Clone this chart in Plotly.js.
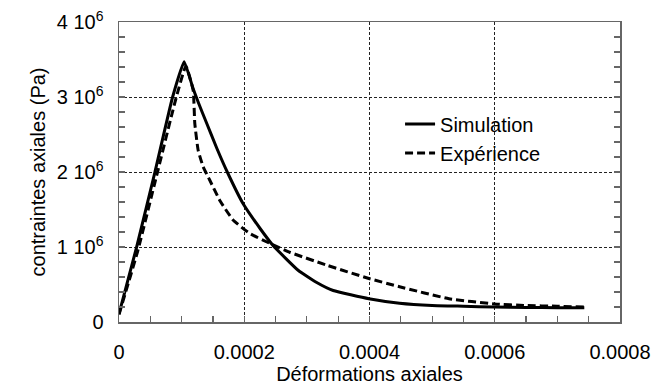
<!DOCTYPE html>
<html>
<head>
<meta charset="utf-8">
<script src="https://cdn.plot.ly/plotly-3.0.1.min.js"></script>
<style>html,body{margin:0;padding:0;background:#fff;}#chart{width:653px;height:389px;}</style>
</head>
<body>
<div id="chart"></div>
<script>
// Simulation series
const simX = [0, 0.0000282, 0.0000574, 0.0000856, 0.000104, 0.000118, 0.000127, 0.000140, 0.000156, 0.000174, 0.000198, 0.000225, 0.000246, 0.000286, 0.000315, 0.000342, 0.000399, 0.000448, 0.000500, 0.000550, 0.000600, 0.000650, 0.000700, 0.000743];
const simY = [0.11e6, 1.0e6, 2.0e6, 3.0e6, 3.47e6, 3.12e6, 2.92e6, 2.65e6, 2.32e6, 1.98e6, 1.58e6, 1.25e6, 1.02e6, 0.69e6, 0.53e6, 0.42e6, 0.31e6, 0.25e6, 0.22e6, 0.21e6, 0.20e6, 0.195e6, 0.19e6, 0.19e6];
// Experimental series
const expX = [0, 0.00003, 0.00006, 0.00009, 0.0001068, 0.0001184, 0.000121, 0.0001264, 0.0001344, 0.000145, 0.000161, 0.0001822, 0.0002088, 0.0002406, 0.0002725, 0.000331, 0.000399, 0.000448, 0.000527, 0.000600, 0.000650, 0.000700, 0.000743];
const expY = [0.10e6, 0.95e6, 1.95e6, 2.95e6, 3.41e6, 3.09e6, 2.65e6, 2.29e6, 2.07e6, 1.89e6, 1.62e6, 1.36e6, 1.18e6, 1.05e6, 0.93e6, 0.76e6, 0.58e6, 0.47e6, 0.31e6, 0.24e6, 0.22e6, 0.21e6, 0.20e6];
// Tick labels
const xTickVals = [0, 0.0002, 0.0004, 0.0006, 0.0008];
const xTickText = ["0", "0.0002", "0.0004", "0.0006", "0.0008"];
const yTickVals = [0, 1e6, 2e6, 3e6, 4e6];
const yTickText = ["0", "1 10<sup>6</sup>", "2 10<sup>6</sup>", "3 10<sup>6</sup>", "4 10<sup>6</sup>"];
const seriesNames = ["Simulation", "Expérience"];

const font = "Liberation Sans, Arial, sans-serif";
const traces = [
  {x: simX, y: simY, name: seriesNames[0], mode: "lines", line: {color: "#000", width: 3, shape: "spline", smoothing: 0.4}},
  {x: expX, y: expY, name: seriesNames[1], mode: "lines", line: {color: "#000", width: 3, dash: "8px,4px", shape: "spline", smoothing: 0.4}}
];
const axisCommon = {
  showline: true, linecolor: "#666", linewidth: 1.5,
  ticks: "inside", ticklen: 6, tickcolor: "#666", tickwidth: 1.2,
  showgrid: true, gridcolor: "#222", gridwidth: 1, griddash: "3px,2px",
  zeroline: false, tickfont: {family: font, size: 20, color: "#000"}
};
const layout = {
  width: 653, height: 389,
  margin: {l: 119, r: 33, t: 22, b: 67},
  paper_bgcolor: "#fff", plot_bgcolor: "#fff",
  font: {family: font, color: "#000"},
  showlegend: true,
  legend: {x: 0.561, y: 0.725, xanchor: "left", yanchor: "top", bgcolor: "rgba(0,0,0,0)",
           font: {family: font, size: 20, color: "#000"}, tracegroupgap: 0},
  xaxis: Object.assign({}, axisCommon, {
    mirror: true,
    range: [0, 0.0008], tickmode: "array", tickvals: xTickVals, ticktext: xTickText,
    ticklabelstandoff: 11,
    minor: {dtick: 0.00005, ticks: "inside", ticklen: 6, tickcolor: "#666", showgrid: false},
    title: {text: "Déformations axiales", font: {family: font, size: 20}, standoff: 4}
  }),
  yaxis: Object.assign({}, axisCommon, {
    mirror: "ticks",
    range: [0, 4e6], tickmode: "array", tickvals: yTickVals, ticktext: yTickText,
    ticklabelstandoff: 10,
    minor: {dtick: 2e5, ticks: "inside", ticklen: 6, tickcolor: "#666", showgrid: false},
    title: {text: "contraintes axiales (Pa)", font: {family: font, size: 20}, standoff: 6}
  })
};
Plotly.newPlot("chart", traces, layout, {displayModeBar: false, staticPlot: true});
</script>
</body>
</html>
